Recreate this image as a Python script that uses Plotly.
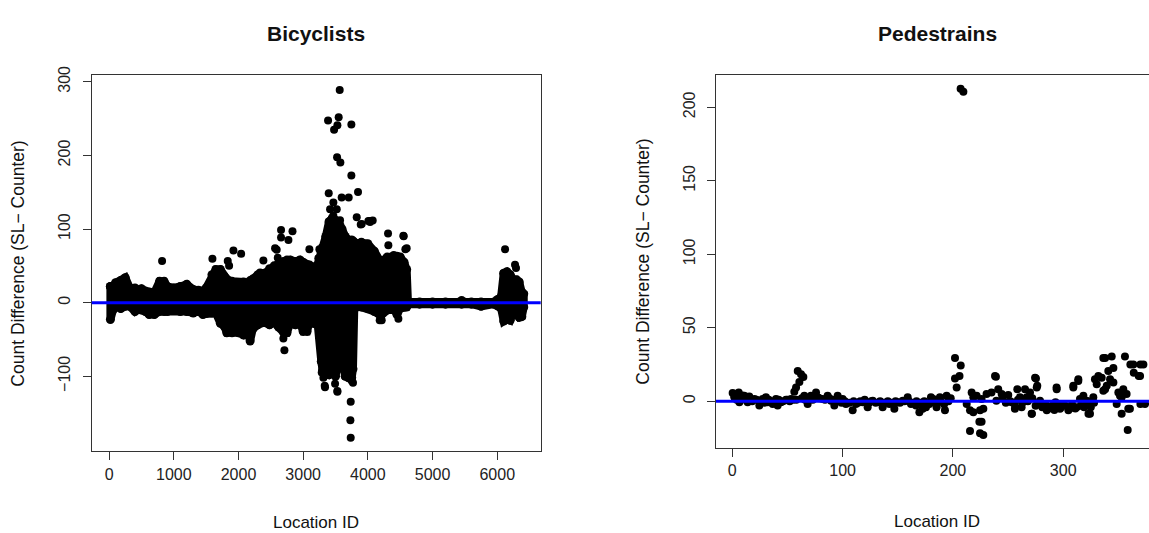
import plotly.graph_objects as go

W, H = 1149, 533

# ---------------- Bicyclists data ----------------
# dense core of points: upper / lower extent of point centres per Location ID
bike_band_x = [20, 60, 100, 180, 250, 320, 400, 450, 500, 560, 620, 700, 780, 850, 900, 1000, 1100,
               1200, 1300, 1380, 1450, 1500, 1590, 1650, 1720, 1780, 1820, 1900, 2000, 2080, 2150,
               2180, 2220, 2300, 2400, 2480, 2550, 2620, 2700, 2750, 2800, 2880, 2950, 3000, 3060,
               3100, 3160, 3220, 3250, 3280, 3300, 3350, 3400, 3450, 3500, 3540, 3570, 3600, 3650,
               3700, 3750, 3770, 3790, 3830, 3900, 4000, 4100, 4200, 4300, 4400, 4450, 4500, 4560,
               4600, 4620, 4800, 5000, 5200, 5450, 5600, 5750, 5950, 6000, 6060, 6100, 6150, 6200,
               6250, 6300, 6340, 6380, 6410]
bike_band_hi = [22, 22, 27, 30, 34, 20, 20, 17, 19, 16, 14, 14, 29, 29, 22, 20, 22,
                25, 18, 17, 16, 20, 38, 45, 45, 36, 32, 29, 27, 28, 27,
                30, 32, 38, 40, 46, 50, 53, 56, 58, 58, 56, 58, 55, 51,
                51, 48, 51, 60, 68, 75, 90, 110, 115, 112, 108, 105, 100, 90,
                85, 85, 84, 82, 80, 82, 80, 70, 55, 62, 64, 63, 62, 55,
                45, 1, 1, 1, 1, 3, 1, 1, 1, 4, 8, 40, 42, 38,
                31, 31, 28, 14, 12]
bike_band_lo = [-23, -10, -5, -8, -5, -5, -12, -9, -10, -12, -16, -16, -12, -12, -12, -10, -12,
                -12, -14, -12, -16, -14, -14, -14, -28, -32, -41, -41, -41, -44, -41,
                -52, -36, -30, -27, -30, -27, -33, -41, -41, -27, -30, -27, -39, -39,
                -25, -28, -25, -35, -80, -92, -96, -98, -95, -100, -80, -45, -80, -100,
                -102, -102, -90, -8, -6, -6, -8, -12, -18, -10, -8, -16, -8, -6,
                -6, -2, -2, -2, -2, -2, -2, -5, -2, -4, -8, -25, -22, -24,
                -12, -14, -20, -19, -6]

# individual points outside the dense core
bike_pt_x = [819, 1597, 1834, 1855, 1922, 2041, 2385, 2334, 2566, 2591, 2607, 2658, 2658, 2772, 2835,
             3096, 3235, 3251, 2710, 2694,
             3565, 3385, 3549, 3529, 3478, 3745, 3524, 3575, 3745, 3395, 3848, 3704, 3467, 3595,
             3416, 3519, 3467, 3570, 3828, 3905, 4008, 4029, 3890, 4034, 4075, 4312, 4554, 4580,
             4317, 4549, 4600,
             3735, 3730, 3735, 3333, 3529, 3472, 3770, 3338, 3467, 3493, 3529, 3287, 3313, 3750, 3725,
             4214, 4472, 4183,
             6121, 6275, 6290]
bike_pt_y = [56.5, 59.6, 56.5, 50, 70.8, 66.3, 57.4, 41, 74, 72, 61, 98.8, 88.6, 85, 97,
             72.5, 60.5, 72.5, -64.5, -48.5,
             288.8, 247.4, 251.9, 240.8, 235, 242, 197.6, 190.5, 172.7, 148.6, 150.4, 142.9, 136, 143,
             127, 127, 118, 112, 116, 107, 111, 110.8, 106, 109.5, 111.7, 94, 90.3, 72.5,
             78, 91, 74,
             -134.4, -159.8, -183.4, -113, -121, -94, -108.6, -115, -93, -110, -120, -95, -102, -106, -100,
             -24, -21.8, -24,
             72.5, 51.6, 47]

bike_xticks = [0, 1000, 2000, 3000, 4000, 5000, 6000]
bike_yticks = [-100, 0, 100, 200, 300]

# ---------------- Pedestrians data ----------------
ped_x = [0.3, 1.9, 5.8, 7.9, 6.4, 10.9, 15.4, 17, 13.9, 20, 24.5, 27.5, 30.5, 32, 36.6, 39.6, 41.1,
         44.1, 48.7, 53.2, 59.3, 62.3, 64.4, 60.8, 57.8, 56.2, 65.3, 68.3, 71.3, 75.9, 77.4, 81.9,
         86.4, 89.5, 92.5, 95.5, 100, 103, 109.1, 112.1, 118.2, 122.7, 127.3, 133.3, 136.3, 142.4,
         146.9, 149.9, 154.5, 159, 162, 166.5, 169.6, 172.6, 175.6, 180.1, 178.6, 181.7,
         2, 4, 9, 12, 14, 18, 22, 26, 29, 33, 35, 38, 42, 46, 50, 52, 55, 58, 63, 66, 70, 73, 79,
         84, 88, 91, 94, 97, 99, 102, 106, 110, 114, 116, 120, 124, 126, 130, 134, 138, 141, 144,
         148, 152, 156, 160, 163, 167, 171, 174, 177, 183, 186, 189, 192, 196, 198,
         207, 209.5,
         201.9, 207.1, 206, 201.9, 203.4, 194.3, 188.2, 182.2, 192.8, 185.2, 212.5, 217, 218.5,
         215.5, 218.5, 224.6, 227.6, 224, 226, 215.5, 224.6, 227.6, 221.5, 226, 230.5, 235, 239,
         241.1, 244.2, 239.4, 250.2, 253.2, 256.2, 258.4, 260.8, 265.4, 266.9, 262.3, 269.9, 271.4,
         275.3, 276.5, 279, 282, 285.1, 288.1, 294.1, 293, 297.1, 300.1, 304.7, 309.2, 313.7, 312.2,
         315.2, 318.3, 321.3, 324.3, 327.3, 330.4, 331.9, 334.9, 338, 344, 339.5, 342.5, 345.5,
         336.4, 354.5, 353, 350, 357.5, 353, 360.5, 358.5, 356, 360.9, 364, 370, 368.5, 370,
         245, 248, 252, 256, 259, 263, 268, 272, 275, 278, 281, 284, 287, 290, 292, 295, 298, 302,
         306, 308, 311, 316, 319, 322, 325, 328,
         271.6, 322.9, 274.5, 276, 238.2, 294, 313.7, 309.2,
         345.5, 363.6, 372.7, 369.7, 374.2, 359, 351.5, 348.5, 336.4, 340.9, 328.8, 338]
ped_y = [5.6, 2.7, 6, 2.7, -0.7, 3.8, 3.3, 1.1, -0.7, 1.6, -2.9, 1.6, 2.7, -0.7, -1.8, 1.6, -2.9,
         -0.7, 1.1, 1.6, 20.5, 18.3, 16.5, 13.1, 9.4, 6.5, 3.8, -1.8, 3.8, 6, 2.7, 1.6,
         3.8, 0.4, -2.9, 3.8, 1.6, -1.8, -6.2, -1.8, -0.7, -4, 0.4, -0.7, -4, -1.8,
         -5.1, -0.7, 0.4, 2.7, -1.8, -2.9, -7.4, -5.1, -4, 2.7, -1.8, -0.7,
         3, 1, 4, 1, 2, 0, 1, 0, -1, 1, 0, -1, 1, 0, 1, 0, 1, 1, 2, 1, 2, 1, 2,
         1, 2, 1, 0, 1, -1, 0, -1, 0, -1, 0, 1, -1, 0, -1, 0, -1, 0, -1,
         0, -1, 0, 0, -1, 0, -1, 0, -2, 0, -1, 0, -2, 0, 2,
         212.5, 210.5,
         29.4, 24.3, 17.2, 15.4, 9.4, 3.8, 2.7, 1.6, -6.2, -4, -1.8, 6, 2.7,
         -6.2, -7.4, -6.2, -5.1, -14, -14, -20.3, -21.8, -23, 3.8, 1.6, 4.9, 6, 16.7,
         8.2, 4.9, 0.4, 4.2, -0.7, -5.1, 8.2, 2.7, 8.2, 2.7, -4, 6, -8.5,
         15.4, 10.5, 0.4, -2.9, -6.2, -4, 8.2, -0.7, -5.1, -1.8, -6.2, 9.4, 13.8, -4,
         1.6, 3.8, 0.4, -8.5, 2.7, 11.6, 17.2, 16, 29.4, 30.5, 10.5, 15, 22.7,
         7.1, 8.2, 2.7, 6, 4.9, -8.5, -5.1, -19.6, 30.5, 25, 19.4, 25, 17.2, -1.8,
         2, -1, 0, -2, 1, -1, 0, 2, -3, -1, -4, -2, -5, -3, -6, -2, -4, -3,
         -5, -2, -5, -3, -4, -2, -4, -1,
         -8.5, -8.5, 16, 9.4, 17.2, 9.4, 15, 10.5,
         12.7, 25, 25, 17.2, -1.8, -5.1, 3.8, -1.8, 29.4, 20.5, 15, 8.2]

ped_xticks = [0, 100, 200, 300]
ped_yticks = [0, 50, 100, 150, 200]

# ---------------- figure ----------------
FONT = "Liberation Sans, Arial, sans-serif"
AX = "#333333"

fig = go.Figure()

bx = bike_band_x + bike_band_x[::-1] + [bike_band_x[0]]
by = bike_band_hi + bike_band_lo[::-1] + [bike_band_hi[0]]
fig.add_trace(go.Scatter(x=bx, y=by, mode="lines+markers", fill="toself", fillcolor="black",
                         line=dict(color="black", width=8),
                         marker=dict(color="black", size=9), hoverinfo="skip",
                         xaxis="x", yaxis="y", showlegend=False))
fig.add_trace(go.Scatter(x=bike_pt_x, y=bike_pt_y, mode="markers",
                         marker=dict(color="black", size=8), xaxis="x", yaxis="y", showlegend=False))
fig.add_trace(go.Scatter(x=ped_x, y=ped_y, mode="markers",
                         marker=dict(color="black", size=8), xaxis="x2", yaxis="y2", showlegend=False))

def px2paperx(p):
    return p / W

def py2papery(p):
    return 1 - p / H

axis_common = dict(showgrid=False, zeroline=False, showline=True, linecolor=AX, linewidth=1,
                   ticks="outside", ticklen=8, tickcolor=AX, tickwidth=1,
                   tickfont=dict(family=FONT, size=16, color="#222222"))

fig.update_layout(
    width=W, height=H,
    margin=dict(l=0, r=0, t=0, b=0),
    paper_bgcolor="white", plot_bgcolor="white",
    xaxis=dict(domain=[px2paperx(91.7), px2paperx(540.7)], range=[-269, 6672],
               tickvals=bike_xticks, mirror=True, anchor="y", **axis_common),
    yaxis=dict(domain=[py2papery(450), py2papery(67.3)], range=[-202, 309],
               tickvals=bike_yticks, mirror=True, anchor="x", tickangle=-90,
               ticklabelstandoff=6, **axis_common),
    xaxis2=dict(domain=[px2paperx(716), 1.0], range=[-14.8, 377.8],
                tickvals=ped_xticks, mirror=True, anchor="y2", **axis_common),
    yaxis2=dict(domain=[py2papery(446.7), py2papery(67)], range=[-31.9, 222],
                tickvals=ped_yticks, mirror=False, anchor="x2", tickangle=-90,
                ticklabelstandoff=6, **axis_common),
    shapes=[
        dict(type="line", xref="x domain", yref="y", x0=0, x1=1, y0=0, y1=0,
             line=dict(color="#0000FF", width=3), layer="above"),
        dict(type="line", xref="x2 domain", yref="y2", x0=0, x1=1, y0=0, y1=0,
             line=dict(color="#0000FF", width=3), layer="above"),
    ],
)

ann = [
    ("<b>Bicyclists</b>", 316, 25, 21, 0),
    ("<b>Pedestrains</b>", 937, 25, 21, 0),
    ("Location ID", 316, 522, 17, 0),
    ("Location ID", 937, 521, 17, 0),
    ("Count Difference (SL\u2212 Counter)", 18, 259, 17.5, -90),
    ("Count Difference (SL\u2212 Counter)", 643, 257, 17.5, -90),
]
for text, x, y, size, ang in ann:
    fig.add_annotation(text=text, x=px2paperx(x), y=py2papery(y), xref="paper", yref="paper",
                       xanchor="center", yanchor="middle", showarrow=False, textangle=ang,
                       font=dict(family=FONT, size=size, color="#111111"))

fig.write_html("out.html")
